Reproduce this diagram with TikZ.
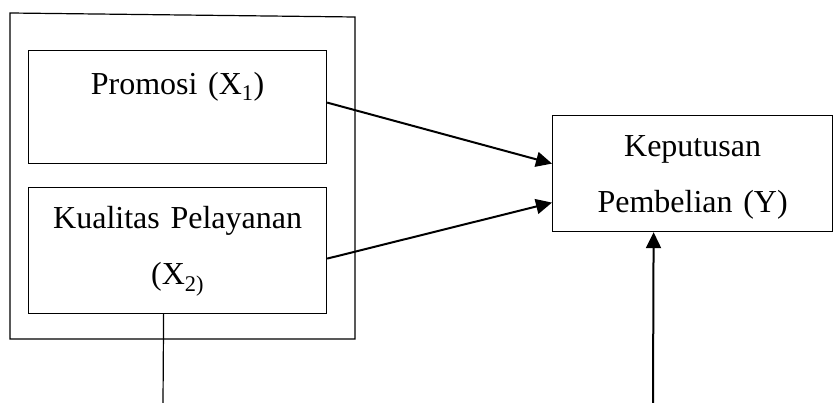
\documentclass[tikz,border=0pt]{standalone}
\usepackage{fontspec}
\setmainfont{Liberation Serif}
\usetikzlibrary{arrows.meta}

\begin{document}
\begin{tikzpicture}[x=1pt, y=-1pt,
                box/.style={draw, line width=1.2pt, inner sep=0pt, align=center, anchor=north west,
                            font=\fontsize{32}{56}\selectfont},
                arr/.style={line width=2pt, -{Triangle[length=16pt,width=15pt]}}]
                \useasboundingbox (0,0) rectangle (833,403);

                \draw[line width=1.2pt] (10,13) -- (355,17) -- (355,339) -- (10,339) -- cycle;

                \node[box, text width=298pt, text height=44pt, text depth=69pt] (X1) at (28,50) {Promosi (X\textsubscript{1})};
                \node[box, text width=298pt, text height=41pt, text depth=85pt] (X2) at (28,187) {Kualitas Pelayanan\\(X\textsubscript{2)}};
                \node[box, text width=280pt, text height=41pt, text depth=75pt] (Y) at (552,115) {Keputusan\\Pembelian (Y)};

                \coordinate (X3) at (163,403);
                \coordinate (Z) at (653,403);

                \draw[arr] ([yshift=4.5pt]X1.east) -- ([yshift=10pt]Y.west);
                \draw[arr] ([yshift=-8pt]X2.east) -- ([yshift=-29pt]Y.west);

                \draw[line width=1.2pt] ([xshift=-14pt]X2.south) -- (X3);
                \draw[arr] (Z) -- ([xshift=-39pt]Y.south);
            \end{tikzpicture}
\end{document}
